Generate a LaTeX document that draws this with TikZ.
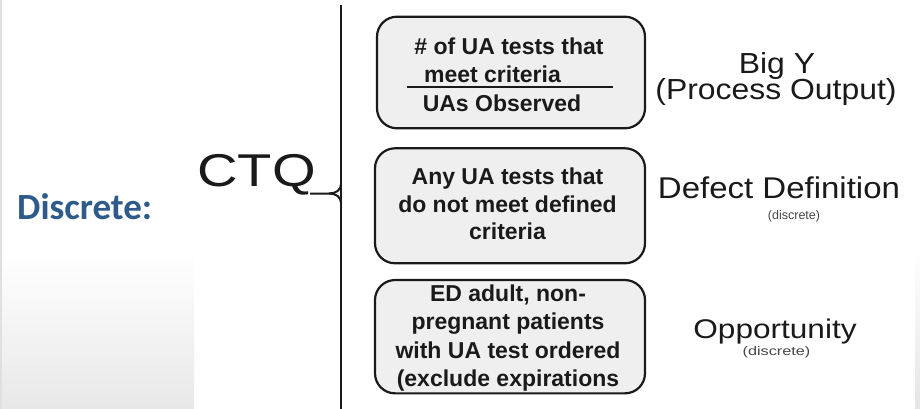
\documentclass[tikz,border=0pt]{standalone}
\usepackage{fontspec}
\setmainfont{Liberation Sans}
\newfontfamily\calibfont{Carlito}
\newfontfamily\arialwide[FakeStretch=1.1]{Liberation Sans}
\newfontfamily\arialopp[FakeStretch=1.17]{Liberation Sans}
\newfontfamily\arialsmall[FakeStretch=1.3]{Liberation Sans}
\newfontfamily\arialctq[FakeStretch=1.22]{Liberation Sans}
\definecolor{discblue}{HTML}{2F5B8A}
\definecolor{boxfill}{HTML}{EFEFEF}
\definecolor{inkc}{HTML}{1A1A1A}
\begin{document}
\begin{tikzpicture}[x=1pt,y=-1pt,
  boxstyle/.style={draw=inkc, line width=2.2pt, fill=boxfill, rounded corners=20pt, inner sep=0pt},
  boxline/.style={font=\fontsize{23}{28}\selectfont\bfseries, inner sep=0pt, anchor=base, text=inkc},
  boxtext/.style={font=\fontsize{23}{28}\selectfont\bfseries, inner sep=0pt, align=center, text=inkc},
  lbl/.style={inner sep=0pt, anchor=base, text=inkc},
  smalllbl/.style={inner sep=0pt, anchor=base, text=black!72},
  spine/.style={line width=2.4pt, draw=inkc},
  bracestyle/.style={line width=2pt, draw=inkc}]
\useasboundingbox (0,0) rectangle (920,409);
\fill[white] (0,0) rectangle (920,409);
% side panels
\fill[black!12] (0,0) rectangle (2,409);
\shade[top color=white,bottom color=black!9] (2,250) rectangle (194,409);
\shade[top color=white,bottom color=black!10] (915,250) rectangle (920,409);

% left labels
\node[font=\calibfont\bfseries\fontsize{37}{37}\selectfont, text=discblue, anchor=base west, inner sep=0pt] (disc) at (17,219) {Discrete:};
\node[font=\arialctq\fontsize{46}{46}\selectfont, anchor=base west, inner sep=0pt, text=inkc] (ctq) at (197,186) {CTQ};

% spine and brace
\coordinate (vtop) at (341,5);
\coordinate (vbot) at (341,409);
\draw[spine] (vtop) -- (vbot);
\coordinate (tip) at (310,193.5);
\coordinate (tipjoin) at (329,193.5);
\coordinate (bup) at (341,184);
\coordinate (bdn) at (341,203);
\draw[bracestyle] (tip) -- (tipjoin) .. controls (336,193.5) and (341,190) .. (bup);
\draw[bracestyle] (tipjoin) .. controls (336,193.5) and (341,197) .. (bdn);

% boxes
\node[boxstyle, minimum width=268pt, minimum height=111.6pt] (b1) at (511,72.5) {};
\node[boxstyle, minimum width=270pt, minimum height=115pt] (b2) at (510,205.8) {};
\node[boxstyle, minimum width=270pt, minimum height=113.3pt] (b3) at (510,336.7) {};

% box 1 text
\node[boxline] (t1a) at (509,55) {\# of UA tests that};
\node[boxline] (t1b) at (492.5,83) {meet criteria};
\node[boxline] (t1c) at (502,111.7) {UAs Observed};
\coordinate (rulel) at (407,87.3);
\coordinate (ruler) at (613,87.3);
\draw[line width=1.6pt, inkc] (rulel) -- (ruler);

% box 2 and 3 text
\node[boxtext, font=\fontsize{23}{27.5}\selectfont\bfseries] (t2) at (507.5,204.2) {Any UA tests that\\do not meet defined\\criteria};
\node[boxtext, font=\fontsize{23}{28.3}\selectfont\bfseries] (t3) at (508,338.2) {ED adult, non-\\pregnant patients\\with UA test ordered\\(exclude expirations};

% right labels
\node[lbl, font=\arialwide\fontsize{29}{29}\selectfont] (bigy) at (777,73.3) {Big Y};
\node[lbl, font=\arialwide\fontsize{29}{29}\selectfont] (procout) at (776,100) {(Process Output)};
\node[lbl, font=\arialwide\fontsize{30}{30}\selectfont] (defdef) at (779,198.3) {Defect Definition};
\node[smalllbl, font=\fontsize{12.5}{12.5}\selectfont] (defdisc) at (794,219) {(discrete)};
\node[lbl, font=\arialopp\fontsize{27}{27}\selectfont] (opp) at (775,338.5) {Opportunity};
\node[smalllbl, font=\arialsmall\fontsize{12.5}{12.5}\selectfont] (oppdisc) at (776.5,355.5) {(discrete)};
\end{tikzpicture}
\end{document}
